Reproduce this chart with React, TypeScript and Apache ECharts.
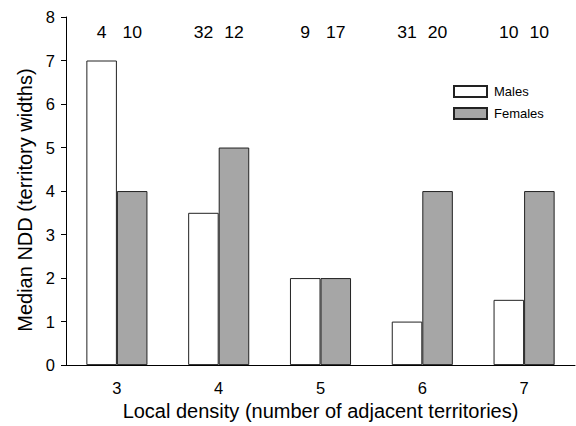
import React, { useEffect, useRef } from "react";
import * as echarts from "echarts";

const categories = ["3", "4", "5", "6", "7"];
const malesNDD = [7, 3.5, 2, 1, 1.5];
const femalesNDD = [4, 5, 2, 4, 4];
const malesN = [4, 32, 9, 31, 10];
const femalesN = [10, 12, 17, 20, 10];
const COUNT_LABEL_Y = 7.64;

const FONT = "'Liberation Sans', Arial, Helvetica, sans-serif";

export default function App() {
  const ref = useRef<HTMLDivElement>(null);
  useEffect(() => {
    if (!ref.current) return;
    const chart = echarts.init(ref.current, undefined, { renderer: "svg" });
    const countData = categories.map((_, i) => [i, malesN[i], femalesN[i]]);
    chart.setOption({
      animation: false,
      backgroundColor: "#ffffff",
      textStyle: { fontFamily: FONT, color: "#000" },
      grid: { left: 66, right: 1, top: 17, bottom: 49, containLabel: false },
      legend: {
        data: ["Males", "Females"],
        orient: "vertical",
        left: 453,
        top: 85,
        itemWidth: 33,
        itemHeight: 11,
        itemGap: 9,
        icon: "rect",
        textStyle: { fontSize: 13, color: "#000", fontFamily: FONT, padding: [0, 0, 0, 2] },
        padding: 0,
      },
      xAxis: {
        type: "category",
        data: categories,
        name: "Local density (number of adjacent territories)",
        nameLocation: "middle",
        nameGap: 32,
        nameTextStyle: { fontSize: 20, color: "#000", fontFamily: FONT },
        axisLine: { lineStyle: { color: "#000", width: 1 } },
        axisTick: { alignWithLabel: true, length: 5, lineStyle: { color: "#000" } },
        axisLabel: { fontSize: 16.5, color: "#000", margin: 14, fontFamily: FONT },
        splitLine: { show: false },
      },
      yAxis: {
        type: "value",
        min: 0,
        max: 8,
        interval: 1,
        name: "Median NDD (territory widths)",
        nameLocation: "middle",
        nameGap: 27,
        nameTextStyle: { fontSize: 20, color: "#000", fontFamily: FONT, padding: [0, 18, 0, 0] },
        axisLine: { show: true, lineStyle: { color: "#000", width: 1 } },
        axisTick: { show: true, length: 5, lineStyle: { color: "#000" } },
        axisLabel: { fontSize: 16.5, color: "#000", margin: 11, fontFamily: FONT },
        splitLine: { show: false },
      },
      series: [
        {
          name: "Males",
          type: "bar",
          data: malesNDD,
          barWidth: "30%",
          barGap: "0%",
          itemStyle: { color: "#ffffff", borderColor: "#222", borderWidth: 1 },
        },
        {
          name: "Females",
          type: "bar",
          data: femalesNDD,
          barWidth: "30%",
          barGap: "0%",
          itemStyle: { color: "#a6a6a6", borderColor: "#222", borderWidth: 1 },
        },
        {
          name: "counts",
          type: "custom",
          data: countData,
          encode: { x: 0 },
          silent: true,
          renderItem: (params: any, api: any) => {
            const idx = api.value(0);
            const pt = api.coord([idx, COUNT_LABEL_Y]);
            const band = api.size([1, 0])[0];
            const off = band * 0.15;
            const mk = (x: number, t: string) => ({
              type: "text",
              x,
              y: pt[1],
              scaleX: 1.1,
              style: {
                text: t,
                fontSize: 16,
                fontFamily: FONT,
                fill: "#000",
                align: "center",
                verticalAlign: "middle",
              },
            });
            return {
              type: "group",
              children: [mk(pt[0] - off, String(api.value(1))), mk(pt[0] + off, String(api.value(2)))],
            };
          },
        },
      ],
    });
    return () => chart.dispose();
  }, []);
  return (
    <div
      ref={ref}
      style={{ position: "fixed", left: 0, top: 0, width: 576, height: 426 }}
    />
  );
}
